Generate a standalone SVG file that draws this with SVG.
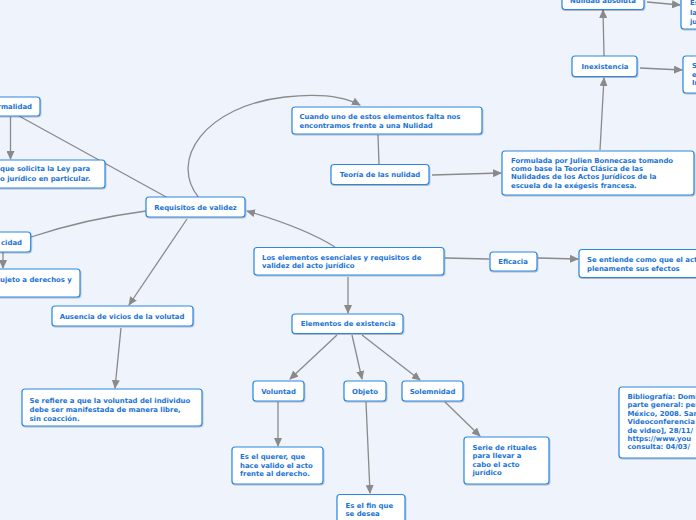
<svg xmlns="http://www.w3.org/2000/svg" width="696" height="520" viewBox="0 0 696 520">
<defs>
<marker id="ah" markerUnits="userSpaceOnUse" markerWidth="9" markerHeight="8" refX="8" refY="4" orient="auto">
<path d="M0,0 L9,4 L0,8 Z" fill="#8a8a8a"/>
</marker>
<filter id="sh" x="-10%" y="-10%" width="130%" height="140%">
<feDropShadow dx="0.6" dy="1" stdDeviation="0.6" flood-color="#000" flood-opacity="0.25"/>
</filter>
</defs>
<style>
.bg{fill:#eff3fc}
.n rect{fill:#ffffff;stroke:#2a87e4;stroke-width:1.2;filter:url(#sh)}
.n text{font-family:"DejaVu Sans","Liberation Sans",sans-serif;font-weight:bold;font-size:6.9px;fill:#1a73d6}
.c{text-anchor:middle}
#connectors path{fill:none;stroke:#8a8a8a;stroke-width:1.3}
.a{marker-end:url(#ah)}
</style>
<rect class="bg" x="0" y="0" width="696" height="520"/>
<g id="connectors">
<path d="M168 198 L19 116"/>
<path class="a" d="M10.5 117 L10.5 159"/>
<path d="M146 211 Q 85 219 31 237"/>
<path class="a" d="M3 252 L3 268"/>
<path class="a" d="M187 219 L129 305"/>
<path class="a" d="M121 328 L115 388"/>
<path class="a" d="M199 198 C 168 160, 205 106, 285 97 C 320 93, 345 97, 360 105"/>
<path d="M379 164 L378 135"/>
<path class="a" d="M432 175 L501 173"/>
<path class="a" d="M600 150 L604 78"/>
<path class="a" d="M604 56 L603 10"/>
<path class="a" d="M647 2 L680 5"/>
<path class="a" d="M640 68 L682 70"/>
<path class="a" d="M335 247 Q 305 228 247 211"/>
<path class="a" d="M348 277 L348 313"/>
<path d="M445 258 L489 259"/>
<path class="a" d="M538 258 L578 259"/>
<path class="a" d="M337 335 L290 379"/>
<path class="a" d="M352 335 L362 379"/>
<path class="a" d="M362 335 L420 380"/>
<path class="a" d="M278 402 L278 446"/>
<path class="a" d="M366 402 L370 493"/>
<path class="a" d="M445 402 L480 436"/>
</g>
<g id="formalidad" class="n"><rect x="-20" y="97" width="60" height="19" rx="3"/><text x="32" y="109" text-anchor="end">rmalidad</text></g>
<g id="formalidad-desc" class="n"><rect x="-20" y="160" width="125" height="28" rx="3"/><text x="0" y="170.8">que solicita la Ley para</text><text x="0" y="180.8">o jurídico en particular.</text></g>
<g id="capacidad" class="n"><rect x="-20" y="232" width="50.7" height="20" rx="3"/><text x="22" y="244.6" text-anchor="end">cidad</text></g>
<g id="capacidad-desc" class="n"><rect x="-20" y="269" width="100" height="28" rx="3"/><text x="0" y="281.8">ujeto a derechos y</text></g>
<g id="requisitos" class="n"><rect x="146" y="197" width="99" height="20" rx="3"/><text class="c" x="195.5" y="209.6">Requisitos de validez</text></g>
<g id="ausencia" class="n"><rect x="52" y="306" width="141" height="20" rx="3"/><text class="c" x="122" y="318.6">Ausencia de vicios de la volutad</text></g>
<g id="ausencia-desc" class="n"><rect x="22" y="389" width="180" height="37" rx="3"/><text x="29.5" y="403.2">Se refiere a que la voluntad del individuo</text><text x="29.5" y="412.3">debe ser manifestada de manera libre,</text><text x="29.5" y="421.2">sin coacción.</text></g>
<g id="cuando" class="n"><rect x="292" y="107" width="190" height="27" rx="3"/><text x="299.5" y="119.2">Cuando uno de estos elementos falta nos</text><text x="299.5" y="127.5">encontramos frente a una Nulidad</text></g>
<g id="teoria" class="n"><rect x="331" y="164.5" width="98" height="20" rx="3"/><text class="c" x="380" y="177">Teoría de las nulidad</text></g>
<g id="formulada" class="n"><rect x="502" y="151" width="192" height="44" rx="3"/><text x="511" y="162.5">Formulada por Julien Bonnecase tomando</text><text x="511" y="170.8">como base la Teoría Clásica de las</text><text x="511" y="179.2">Nulidades de los Actos Jurídicos de la</text><text x="511" y="187.5">escuela de la exégesis francesa.</text></g>
<g id="inexistencia" class="n"><rect x="572" y="56" width="65" height="20.5" rx="3"/><text class="c" x="605" y="68.8">Inexistencia</text></g>
<g id="nulidad-absoluta" class="n"><rect x="562" y="-12" width="82" height="21.5" rx="3"/><text class="c" x="603" y="2.5">Nulidad absoluta</text></g>
<g id="nulidad-desc" class="n"><rect x="681" y="-20" width="30" height="49" rx="3"/><text x="690" y="5.2">Es</text><text x="690" y="15.2">la</text><text x="690" y="24.2">ju</text></g>
<g id="inexistencia-desc" class="n"><rect x="683" y="56" width="30" height="37" rx="3"/><text x="692" y="68.2">S</text><text x="692" y="76.8">e</text><text x="692" y="84.5">In</text></g>
<g id="los-elementos" class="n"><rect x="254" y="247.5" width="190" height="27.5" rx="3"/><text x="262" y="259.8">Los elementos esenciales y requisitos de</text><text x="262" y="268.2">validez del acto jurídico</text></g>
<g id="eficacia" class="n"><rect x="490" y="252" width="47" height="19" rx="3"/><text class="c" x="513" y="264">Eficacia</text></g>
<g id="eficacia-desc" class="n"><rect x="579" y="249.5" width="130" height="28" rx="3"/><text x="587" y="262">Se entiende como que el act</text><text x="587" y="270.5">plenamente sus efectos</text></g>
<g id="elementos-existencia" class="n"><rect x="292" y="314" width="111" height="19.5" rx="3"/><text class="c" x="348" y="326.2">Elementos de existencia</text></g>
<g id="voluntad" class="n"><rect x="253" y="381" width="51" height="20" rx="3"/><text class="c" x="278.5" y="393.5">Voluntad</text></g>
<g id="objeto" class="n"><rect x="344" y="381" width="42" height="20" rx="3"/><text class="c" x="365" y="393.5">Objeto</text></g>
<g id="solemnidad" class="n"><rect x="402" y="381" width="61" height="20" rx="3"/><text class="c" x="432.5" y="393.5">Solemnidad</text></g>
<g id="voluntad-desc" class="n"><rect x="232" y="447" width="91" height="37" rx="3"/><text x="240" y="459.2">Es el querer, que</text><text x="240" y="468.2">hace valido el acto</text><text x="240" y="476.2">frente al derecho.</text></g>
<g id="objeto-desc" class="n"><rect x="337" y="494.5" width="68" height="40" rx="3"/><text x="345.5" y="507.5">Es el fin que</text><text x="345.5" y="515.8">se desea</text></g>
<g id="solemnidad-desc" class="n"><rect x="464" y="437" width="85" height="47" rx="3"/><text x="472.5" y="449.8">Serie de rituales</text><text x="472.5" y="458.2">para llevar a</text><text x="472.5" y="466.8">cabo el acto</text><text x="472.5" y="475.2">jurídico</text></g>
<g id="bibliografia" class="n"><rect x="619" y="387" width="90" height="71" rx="3"/><text x="627.5" y="399">Bibliografía: Domi</text><text x="627.5" y="407.4">parte general: per</text><text x="627.5" y="415.8">México, 2008. San</text><text x="627.5" y="424.2">Videoconferencia</text><text x="627.5" y="432.6">de video], 28/11/</text><text x="627.5" y="441">https://www.you</text><text x="627.5" y="449.4">consulta: 04/03/</text></g>
</svg>
